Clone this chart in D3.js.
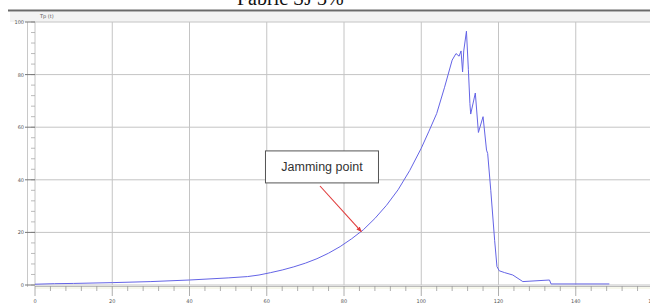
<!DOCTYPE html>
<html><head><meta charset="utf-8">
<script src="https://cdn.jsdelivr.net/npm/d3@7"></script>
<style>html,body{margin:0;padding:0;background:#fff;overflow:hidden}</style>
</head><body>
<svg id="c" width="650" height="307"></svg>
<script>
const title = "Fabric SJ 3%";
const yAxisLabel = "Tp (t)";
const xTicks = [0, 20, 40, 60, 80, 100, 120, 140, 160];
const yTicks = [0, 20, 40, 60, 80, 100];
const xValues = [0, 5, 10, 20, 30, 40, 50, 55, 58, 61, 64, 67, 70, 73, 76, 79, 82, 85, 88, 91, 94, 97, 100, 102, 104, 106, 108, 109, 109.8, 110.3, 110.7, 111.0, 111.7, 112.2, 112.6, 112.8, 114, 114.8, 116, 116.9, 117.2, 118, 119, 119.6, 120.2, 121.6, 123.7, 126.3, 133.2, 133.6, 148.7];
const yValues = [0.3, 0.5, 0.6, 0.9, 1.3, 1.9, 2.7, 3.2, 3.8, 4.7, 5.7, 6.9, 8.3, 10.0, 12.1, 14.6, 17.6, 21.0, 25.3, 30.3, 36.2, 43.5, 52, 58.5, 65.2, 75, 85.5, 88, 87, 89, 81, 89, 96.5, 82, 69, 65, 73, 58, 64, 51.3, 50, 36, 17, 7, 5.4, 4.7, 3.8, 1.3, 1.9, 0.4, 0.4];
const annotationText = "Jamming point";
const annotationPoint = [84.5, 20.3];
const annotationLabel = [74.3, 44.9];

const svg = d3.select("#c");
const x = d3.scaleLinear().domain([0, 160]).range([35, 653]);
const y = d3.scaleLinear().domain([0, 100]).range([285, 22]);

// title (clipped at top)
svg.append("text").attr("x", 237).attr("y", 5).attr("font-family", "Liberation Serif, Times New Roman, serif")
  .attr("font-size", 20).attr("fill", "#111").text(title);

// header
svg.append("rect").attr("x", 10).attr("y", 12).attr("width", 640).attr("height", 10).attr("fill", "#f3f3f3");
svg.append("line").attr("x1", 8).attr("x2", 650).attr("y1", 10.5).attr("y2", 10.5).attr("stroke", "#6a6a6a").attr("stroke-width", 2);
svg.append("text").attr("x", 40).attr("y", 18).attr("font-family", "DejaVu Sans, sans-serif").attr("font-size", 5)
  .attr("fill", "#555").text(yAxisLabel);

// grid
const g = svg.append("g");
g.selectAll("line.vg").data(xTicks).enter().append("line")
  .attr("x1", d => x(d)).attr("x2", d => x(d)).attr("y1", y(100)).attr("y2", y(0))
  .attr("stroke", "#c4c4c4").attr("stroke-width", 1);
g.selectAll("line.hg").data(yTicks).enter().append("line")
  .attr("x1", x(0)).attr("x2", 650).attr("y1", d => y(d)).attr("y2", d => y(d))
  .attr("stroke", "#c4c4c4").attr("stroke-width", 1);

// y axis strip
svg.append("line").attr("x1", 27.5).attr("x2", 27.5).attr("y1", y(100)).attr("y2", y(0)+2).attr("stroke", "#c8c8c8");
const yMinor = d3.range(0, 101, 4);
svg.selectAll("line.ym").data(yMinor).enter().append("line")
  .attr("x1", 31).attr("x2", 35).attr("y1", d => y(d)).attr("y2", d => y(d)).attr("stroke", "#aaa").attr("stroke-width", 0.8);
svg.selectAll("line.yM").data(yTicks).enter().append("line")
  .attr("x1", 25).attr("x2", 35).attr("y1", d => y(d)).attr("y2", d => y(d)).attr("stroke", "#777").attr("stroke-width", 1);
svg.selectAll("text.yl").data(yTicks).enter().append("text")
  .attr("x", 24).attr("y", d => y(d) + 2).attr("text-anchor", "end")
  .attr("font-family", "DejaVu Sans, sans-serif").attr("font-size", 5).attr("fill", "#555").text(d => d);

// x axis strip
svg.append("line").attr("x1", x(0)).attr("x2", 650).attr("y1", 286.5).attr("y2", 286.5).attr("stroke", "#bbb");
svg.append("line").attr("x1", x(0)).attr("x2", 650).attr("y1", 288).attr("y2", 288).attr("stroke", "#eef0d8");
const xMinor = d3.range(0, 161, 4);
svg.selectAll("line.xm").data(xMinor).enter().append("line")
  .attr("x1", d => x(d)).attr("x2", d => x(d)).attr("y1", 286).attr("y2", d => d % 20 === 0 ? 296 : (d % 10 === 0 ? 294 : 291))
  .attr("stroke", "#999").attr("stroke-width", 0.8);
svg.selectAll("text.xl").data(xTicks).enter().append("text")
  .attr("x", d => x(d)).attr("y", 303).attr("text-anchor", "middle")
  .attr("font-family", "DejaVu Sans, sans-serif").attr("font-size", 5).attr("fill", "#555").text(d => d);

// curve
const pts = xValues.map((v, i) => [v, yValues[i]]);
svg.append("path").datum(pts)
  .attr("d", d3.line().x(d => x(d[0])).y(d => y(d[1])))
  .attr("fill", "none").attr("stroke", "#6464e6").attr("stroke-width", 1).attr("stroke-linejoin", "round");

// annotation arrow
const defs = svg.append("defs");
defs.append("marker").attr("id", "ah").attr("viewBox", "0 0 10 10").attr("refX", 9).attr("refY", 5)
  .attr("markerWidth", 5).attr("markerHeight", 5).attr("orient", "auto")
  .append("path").attr("d", "M0,1 L10,5 L0,9 z").attr("fill", "#e03a3a");
svg.append("line").attr("x1", 320).attr("y1", 186)
  .attr("x2", x(annotationPoint[0])).attr("y2", y(annotationPoint[1]))
  .attr("stroke", "#e03a3a").attr("stroke-width", 1.1).attr("marker-end", "url(#ah)");

// annotation box
const bx = x(annotationLabel[0]), by = y(annotationLabel[1]);
svg.append("rect").attr("x", bx - 56.5).attr("y", by - 16).attr("width", 113).attr("height", 32)
  .attr("fill", "#fff").attr("stroke", "#555").attr("stroke-width", 1);
svg.append("text").attr("x", bx).attr("y", by + 4).attr("text-anchor", "middle")
  .attr("font-family", "Liberation Sans, Arial, sans-serif").attr("font-size", 12.5).attr("fill", "#333").text(annotationText);
</script>
</body></html>
